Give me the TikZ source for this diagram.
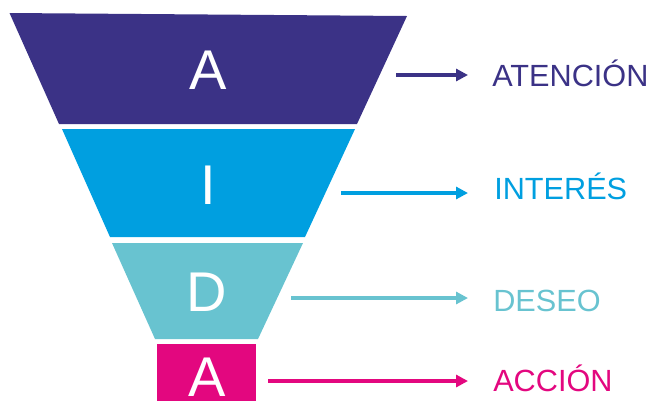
\documentclass[tikz,border=0pt]{standalone}
\usepackage{fontspec}
\setmainfont{Liberation Sans}
\usetikzlibrary{arrows.meta}
\definecolor{cA}{RGB}{59,50,134}
\definecolor{cI}{RGB}{0,159,224}
\definecolor{cD}{RGB}{104,195,208}
\definecolor{cC}{RGB}{227,7,127}
\tikzset{
  letter/.style={text=white,font=\fontsize{42pt}{42pt}\selectfont,inner sep=0pt,anchor=base},
  label/.style={font=\fontsize{23pt}{23pt}\selectfont,inner sep=0pt,anchor=base west},
  arr/.style={line width=2.5pt,-{Triangle[length=9pt,width=9pt]},shorten >=18pt}
}
\begin{document}
\begin{tikzpicture}[x=0.75pt,y=-0.75pt]
\useasboundingbox (0,0) rectangle (656,401);
% funnel pieces
\fill[cA] (9.5,13) -- (407,16) -- (357,124) -- (59,124) -- cycle;
\fill[cI] (62,129) -- (355,129) -- (305,237) -- (110,237) -- cycle;
\fill[cD] (112,243) -- (303,243) -- (258,339) -- (155,339) -- cycle;
\fill[cC] (157,344) rectangle (256,401);
% letters
\node[letter] (lA) at (208,89) {A};
\node[letter] (lI) at (208,204) {I};
\node[letter] (lD) at (207,311) {D};
\node[letter] (lC) at (207,396) {A};
% labels
\node[label,text=cA] (tA) at (492,86) {ATENCIÓN};
\node[label,text=cI] (tI) at (494,199) {INTERÉS};
\node[label,text=cD] (tD) at (493,311) {DESEO};
\node[label,text=cC] (tC) at (493,391) {ACCIÓN};
% arrow starts
\coordinate (sA) at (396,75);
\coordinate (sI) at (341,193);
\coordinate (sD) at (291,298);
\coordinate (sC) at (268,381);
\draw[arr,cA] (sA) -- (sA -| tA.west);
\draw[arr,cI] (sI) -- (sI -| tA.west);
\draw[arr,cD] (sD) -- (sD -| tA.west);
\draw[arr,cC] (sC) -- (sC -| tA.west);
\end{tikzpicture}
\end{document}
